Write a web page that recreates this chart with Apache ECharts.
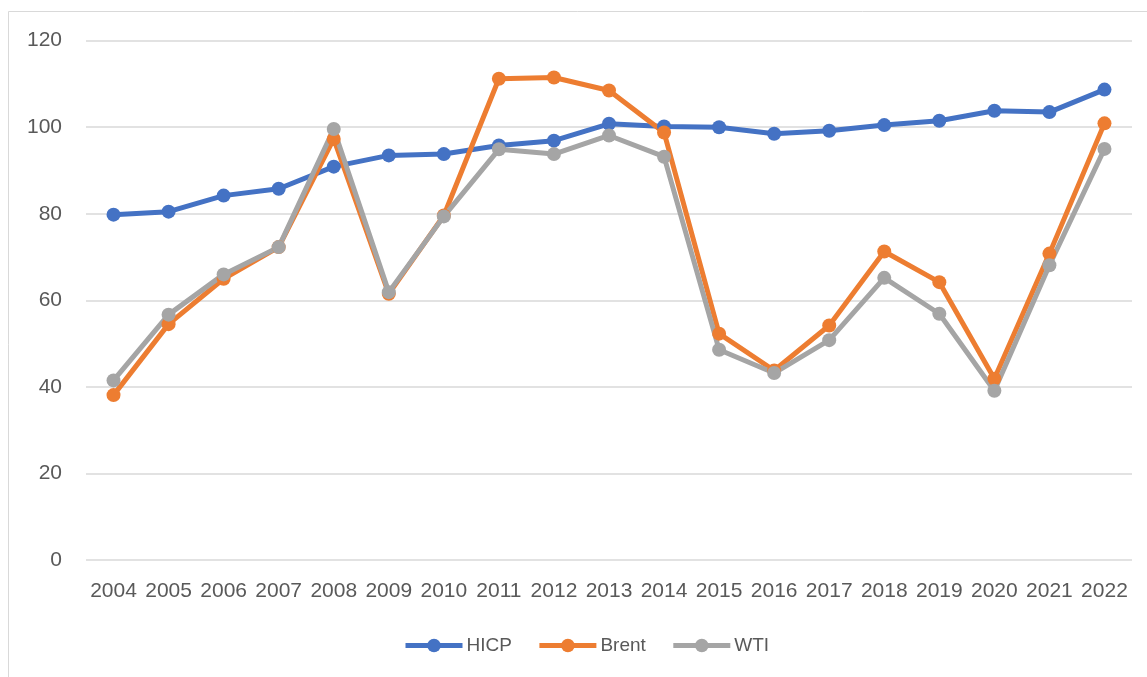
<!DOCTYPE html>
<html>
<head>
<meta charset="utf-8">
<script src="https://cdn.jsdelivr.net/npm/echarts@6/dist/echarts.min.js"></script>
<style>
html,body{margin:0;padding:0;background:#fff;}
#c{width:1147px;height:677px;}
</style>
</head>
<body>
<div id="c"></div>
<script>
var years = ['2004','2005','2006','2007','2008','2009','2010','2011','2012','2013','2014','2015','2016','2017','2018','2019','2020','2021','2022'];
var hicp  = [79.8, 80.5, 84.2, 85.8, 90.9, 93.5, 93.8, 95.8, 96.9, 100.8, 100.2, 100.0, 98.5, 99.2, 100.5, 101.5, 103.8, 103.5, 108.7];
var brent = [38.1, 54.5, 65.0, 72.3, 97.3, 61.5, 79.6, 111.2, 111.5, 108.5, 98.8, 52.3, 43.8, 54.2, 71.3, 64.2, 41.9, 70.8, 100.9];
var wti   = [41.5, 56.7, 66.0, 72.3, 99.6, 61.9, 79.4, 94.9, 93.8, 98.1, 93.2, 48.6, 43.2, 50.8, 65.2, 56.9, 39.1, 68.1, 95.0];
var yTicks = [0, 20, 40, 60, 80, 100, 120];

var FONT = 'Liberation Sans';
var TXT = '#595959';
function mk(name, data, color) {
  return {
    name: name, type: 'line', data: data,
    symbol: 'circle', symbolSize: 14,
    lineStyle: { width: 5, color: color },
    itemStyle: { color: color },
    emphasis: { disabled: true },
    animation: false
  };
}
var chart = echarts.init(document.getElementById('c'));
chart.setOption({
  backgroundColor: '#fff',
  animation: false,
  color: ['#4472C4', '#ED7D31', '#A5A5A5'],
  graphic: [{
    type: 'polyline', silent: true,
    shape: { points: [[8.5, 677], [8.5, 11.5], [1147, 11.5]] },
    style: { stroke: '#D9D9D9', lineWidth: 1, fill: null }
  }],
  grid: { left: 86, right: 15, top: 40.7, bottom: 117 },
  xAxis: {
    type: 'category', data: years, boundaryGap: true,
    axisLine: { show: false }, axisTick: { show: false },
    axisLabel: { color: TXT, fontFamily: FONT, fontSize: 21, margin: 21, interval: 0 }
  },
  yAxis: {
    type: 'value', min: yTicks[0], max: yTicks[yTicks.length - 1], interval: 20,
    axisLine: { show: false }, axisTick: { show: false },
    axisLabel: { color: TXT, fontFamily: FONT, fontSize: 21, margin: 24 },
    splitLine: { lineStyle: { color: '#D9D9D9', width: 1.5 } }
  },
  legend: {
    bottom: 17, left: 398,
    itemWidth: 57, itemHeight: 17, itemGap: 25,
    lineStyle: { width: 5 },
    textStyle: { color: TXT, fontFamily: FONT, fontSize: 19, padding: [0, 0, 0, -1] },
    data: ['HICP', 'Brent', 'WTI']
  },
  series: [mk('HICP', hicp, '#4472C4'), mk('Brent', brent, '#ED7D31'), mk('WTI', wti, '#A5A5A5')]
});
</script>
</body>
</html>
